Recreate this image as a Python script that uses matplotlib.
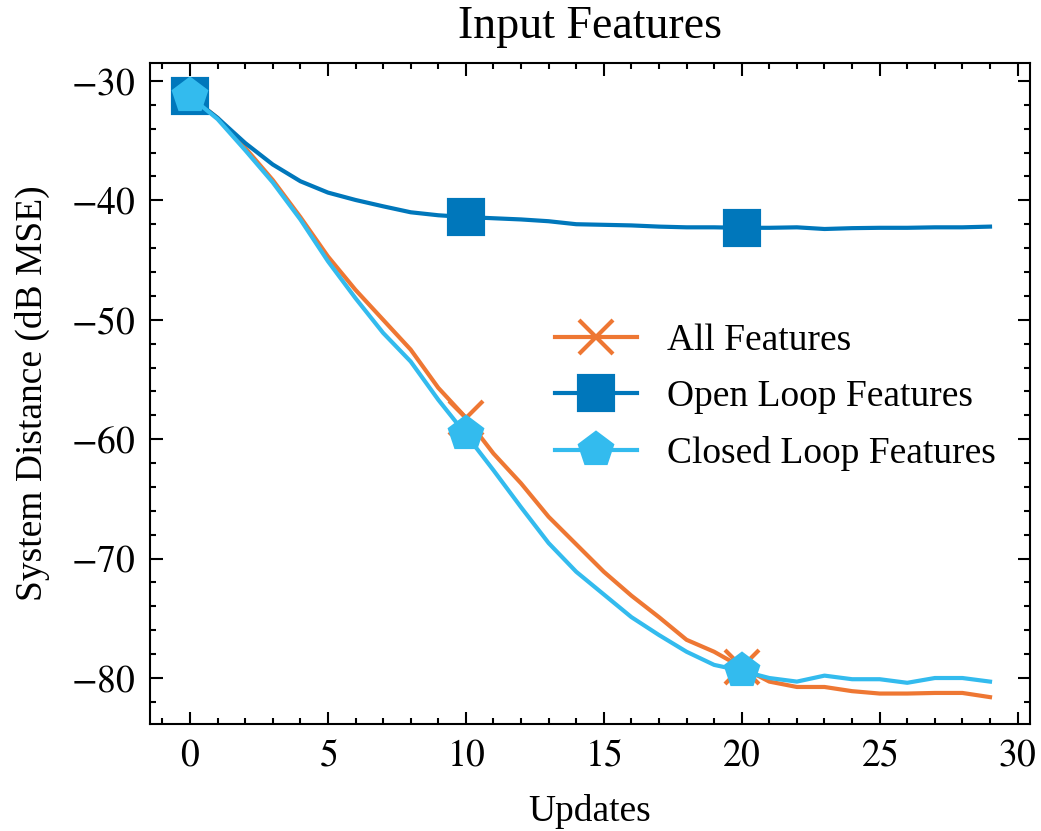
import matplotlib
matplotlib.use("Agg")
import matplotlib.pyplot as plt
from matplotlib.ticker import MultipleLocator, FuncFormatter

updates = list(range(30))
all_features = [-31.3, -33.1, -35.6, -38.3, -41.4, -44.7, -47.5, -50.0, -52.5, -55.7,
                -58.2, -61.2, -63.7, -66.5, -68.8, -71.1, -73.1, -74.9, -76.8, -77.8,
                -79.1, -80.3, -80.75, -80.75, -81.1, -81.3, -81.3, -81.25, -81.25, -81.6]
open_loop = [-31.3, -33.1, -35.2, -37.0, -38.4, -39.35, -39.97, -40.5, -41.0, -41.25,
             -41.4, -41.5, -41.6, -41.75, -42.0, -42.05, -42.1, -42.2, -42.26, -42.26,
             -42.3, -42.3, -42.26, -42.4, -42.33, -42.3, -42.3, -42.26, -42.26, -42.2]
closed_loop = [-31.3, -33.2, -35.8, -38.5, -41.6, -45.1, -48.2, -51.1, -53.5, -56.7,
               -59.6, -62.6, -65.7, -68.7, -71.1, -73.0, -74.9, -76.4, -77.8, -78.9,
               -79.4, -80.0, -80.3, -79.8, -80.1, -80.1, -80.4, -80.0, -80.0, -80.3]
labels = ["All Features", "Open Loop Features", "Closed Loop Features"]
colors = ["#EE7733", "#0077BB", "#33BBEE"]
markers = ["x", "s", "p"]

plt.rcParams.update({
    "font.family": ["Liberation Serif", "DejaVu Serif"],
    "mathtext.fontset": "stix",
    "font.size": 9,
    "axes.linewidth": 0.5,
    "xtick.direction": "in",
    "ytick.direction": "in",
    "xtick.top": True,
    "ytick.right": True,
    "xtick.major.size": 3,
    "ytick.major.size": 3,
    "xtick.minor.size": 1.5,
    "ytick.minor.size": 1.5,
    "xtick.major.width": 0.5,
    "ytick.major.width": 0.5,
    "xtick.minor.width": 0.5,
    "ytick.minor.width": 0.5,
    "xtick.minor.visible": True,
    "ytick.minor.visible": True,
    "lines.linewidth": 1.0,
})

fig = plt.figure(figsize=(1041 / 300, 831 / 300), dpi=300)
ax = fig.add_axes([150 / 1041, 1 - 724 / 831, 880 / 1041, 661 / 831])

for ys, lab, c, m in zip([all_features, open_loop, closed_loop], labels, colors, markers):
    ax.plot(updates, ys, color=c, marker=m, markersize=8, markevery=10, label=lab)

ax.set_ylim(-83.85, -28.5)
ax.xaxis.set_major_locator(MultipleLocator(5))
ax.xaxis.set_minor_locator(MultipleLocator(1))
ax.yaxis.set_major_locator(MultipleLocator(10))
ax.yaxis.set_minor_locator(MultipleLocator(2))
fmt = FuncFormatter(lambda v, p: "$%g$" % v)
ax.xaxis.set_major_formatter(fmt)
ax.yaxis.set_major_formatter(fmt)

ax.set_title("Input Features", fontsize=11)
ax.set_xlabel("Updates", labelpad=5)
ax.set_ylabel("System Distance (dB MSE)", labelpad=5)
ax.legend(loc="center right", bbox_to_anchor=(1.0, 0.494), frameon=False,
          handlelength=2.2, labelspacing=0.58)

fig.savefig("out.png", dpi=300)
